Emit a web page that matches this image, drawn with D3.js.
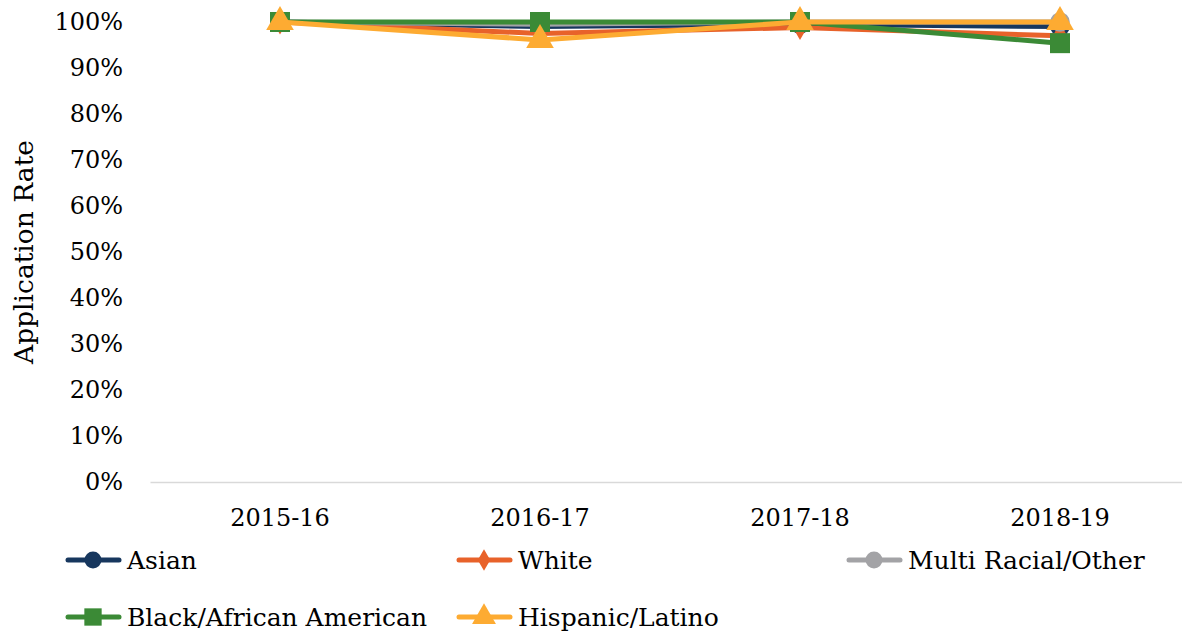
<!DOCTYPE html>
<html>
<head>
<meta charset="utf-8">
<style>
  body { margin: 0; background: #fff; }
  text { font-family: "DejaVu Serif", "Liberation Serif", serif; fill: #000; }
</style>
</head>
<body>
<div id="chart"></div>
<script src="https://d3js.org/d3.v7.min.js"></script>
<script>
// Datos
const years = ["2015-16", "2016-17", "2017-18", "2018-19"];
const yTicks = [0, 10, 20, 30, 40, 50, 60, 70, 80, 90, 100];
const asian = [100, 99.0, 99.5, 99.0];
const white = [100, 97.5, 98.8, 97.0];
const multi = [100, 99.5, 100, 100];
const black = [100, 100, 100, 95.4];
const hispanic = [100, 96.1, 100, 100];

const series = [
  { name: "Asian", values: asian, color: "#17375e", shape: "circle" },
  { name: "White", values: white, color: "#e8622a", shape: "diamond" },
  { name: "Multi Racial/Other", values: multi, color: "#a3a3a6", shape: "circle" },
  { name: "Black/African American", values: black, color: "#3b8a36", shape: "square" },
  { name: "Hispanic/Latino", values: hispanic, color: "#fdab32", shape: "triangle" }
];

const W = 1182, H = 638;
const plotLeft = 150, plotRight = 1190, plotTop = 22, plotBottom = 482;

const svg = d3.select("#chart").append("svg")
  .attr("width", W).attr("height", H);

const x = d3.scaleBand().domain(years).range([plotLeft, plotRight]);
const y = d3.scaleLinear().domain([0, 100]).range([plotBottom, plotTop]);

// Eje Y (solo etiquetas)
const yAxis = svg.append("g")
  .attr("transform", `translate(${plotLeft - 27},0)`)
  .call(d3.axisLeft(y).tickValues(yTicks).tickSize(0).tickPadding(0).tickFormat(d => d + "%"));
yAxis.select(".domain").remove();
yAxis.selectAll("text").style("font-size", "24px").attr("font-family", null);

// Eje X
const xAxis = svg.append("g")
  .attr("transform", `translate(0,${plotBottom})`)
  .call(d3.axisBottom(x).tickSize(0).tickPadding(27));
xAxis.select(".domain").attr("stroke", "#d9d9d9").attr("stroke-width", 1.5);
xAxis.selectAll("text").style("font-size", "24px").attr("font-family", null);

// Título eje Y
svg.append("text")
  .attr("transform", `translate(33,252) rotate(-90)`)
  .attr("text-anchor", "middle")
  .style("font-size", "26.5px")
  .text("Application Rate");

const symbolType = { circle: d3.symbolCircle, diamond: d3.symbolDiamond, square: d3.symbolSquare, triangle: d3.symbolTriangle };
const symbolSize = { circle: 300, diamond: 180, square: 400, triangle: 330 };

function marker(g, s, cx, cy, scale) {
  g.append("path")
    .attr("d", d3.symbol().type(symbolType[s.shape]).size(symbolSize[s.shape] * scale)())
    .attr("transform", `translate(${cx},${cy})`)
    .attr("fill", s.color);
}

const line = d3.line()
  .x((d, i) => x(years[i]) + x.bandwidth() / 2)
  .y(d => y(d));

series.forEach(s => {
  const g = svg.append("g");
  g.append("path")
    .datum(s.values)
    .attr("d", line)
    .attr("fill", "none")
    .attr("stroke", s.color)
    .attr("stroke-width", 5)
    .attr("stroke-linejoin", "round")
    .attr("stroke-linecap", "round");
  s.values.forEach((v, i) => marker(g, s, x(years[i]) + x.bandwidth() / 2, y(v), 1));
});

// Leyenda
const legendPos = [
  { x: 65, y: 560 }, { x: 456, y: 560 }, { x: 846, y: 560 },
  { x: 65, y: 617 }, { x: 456, y: 617 }
];
series.forEach((s, i) => {
  const p = legendPos[i];
  const g = svg.append("g");
  g.append("line")
    .attr("x1", p.x + 3).attr("x2", p.x + 54)
    .attr("y1", p.y).attr("y2", p.y)
    .attr("stroke", s.color).attr("stroke-width", 5).attr("stroke-linecap", "round");
  marker(g, s, p.x + 28, p.y, 0.75);
  g.append("text")
    .attr("x", p.x + 62).attr("y", p.y)
    .attr("dy", "0.35em")
    .style("font-size", "25px")
    .text(s.name);
});
</script>
</body>
</html>
